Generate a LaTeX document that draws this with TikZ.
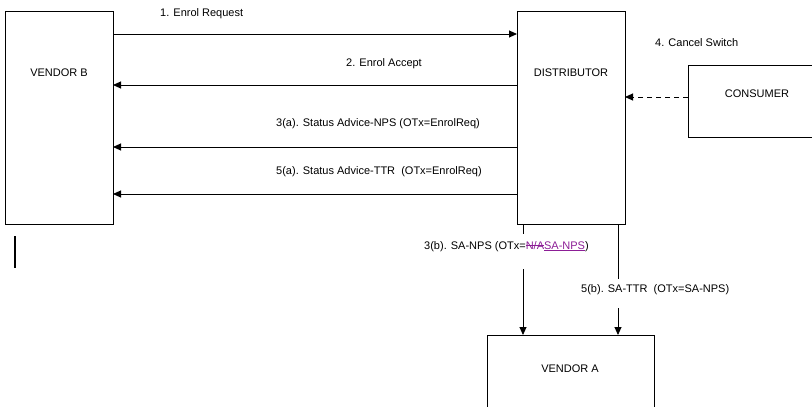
\documentclass[tikz,border=0pt]{standalone}
\usepackage{fontspec}
\setmainfont{Liberation Sans}
\usetikzlibrary{arrows.meta}
\definecolor{rev}{RGB}{140,30,150}
\newsavebox{\revbox}
\newcommand{\revstrike}[1]{\sbox{\revbox}{#1}\rlap{\raisebox{3.2pt}{\rule{\wd\revbox}{0.6pt}}}\usebox{\revbox}}
\newcommand{\revunder}[1]{\sbox{\revbox}{#1}\rlap{\raisebox{-1.8pt}{\rule{\wd\revbox}{0.6pt}}}\usebox{\revbox}}
\begin{document}
\begin{tikzpicture}[x=1pt,y=-1pt,
  font=\fontsize{11}{13}\selectfont,
  every node/.style={inner sep=0pt,text height=8pt,text depth=0pt},
  msg/.style={line width=0.9pt,-{Triangle[length=8pt,width=7pt]}},
  lbl/.style={anchor=west}]
\useasboundingbox (0,0) rectangle (812,407);
% boxes
\draw[line width=1pt] (5,11) rectangle (113,224);
\draw[line width=1pt] (517,11) rectangle (625,224);
\draw[line width=1pt] (688,65) rectangle (830,137);
\draw[line width=1pt] (487,335) rectangle (654,420);
\coordinate (cW) at (688,97);
\node (vb) at (59,72) {VENDOR B};
\node (d) at (571,72) {DISTRIBUTOR};
\node (c) at (757,93) {CONSUMER};
\node (va) at (570,368) {VENDOR A};
% horizontal messages
\coordinate (m1s) at (113,34); \coordinate (m1e) at (517,34);
\draw[msg] (m1s) -- (m1e);
\coordinate (m2s) at (517,85); \coordinate (m2e) at (113,85);
\draw[msg] (m2s) -- (m2e);
\coordinate (m3s) at (517,147); \coordinate (m3e) at (113,147);
\draw[msg] (m3s) -- (m3e);
\coordinate (m5s) at (517,194); \coordinate (m5e) at (113,194);
\draw[msg] (m5s) -- (m5e);
\coordinate (m4e) at (625,97);
\draw[msg,dash pattern=on 5pt off 4pt] (cW) -- (m4e);
% vertical messages
\coordinate (v3a) at (523,224); \coordinate (v3b) at (523,234);
\coordinate (v3c) at (523,269); \coordinate (v3d) at (523,335);
\draw[line width=0.9pt] (v3a) -- (v3b);
\draw[msg] (v3c) -- (v3d);
\coordinate (v5a) at (618,224); \coordinate (v5b) at (618,279);
\coordinate (v5c) at (618,308); \coordinate (v5d) at (618,335);
\draw[line width=0.9pt] (v5a) -- (v5b);
\draw[msg] (v5c) -- (v5d);
% labels
\node[lbl] (l1) at (160,12) {1. Enrol Request};
\node[lbl] (l2) at (346,62) {2. Enrol Accept};
\node[lbl] (l3) at (276,122) {3(a). Status Advice-NPS (OTx=EnrolReq)};
\node[lbl] (l5) at (276,170) {5(a). Status Advice-TTR\ \ (OTx=EnrolReq)};
\node[lbl] (l4) at (655,42) {4. Cancel Switch};
\node[lbl] (l3b) at (424,245) {3(b). SA-NPS (OTx={\color{rev}\revstrike{N/A}\revunder{SA-NPS}})};
\node[lbl] (l5b) at (581,288) {5(b). SA-TTR\ \ (OTx=SA-NPS)};
% cursor bar
\coordinate (bar1) at (15,236); \coordinate (bar2) at (15,268);
\draw[line width=1.6pt] (bar1) -- (bar2);
\end{tikzpicture}
\end{document}
